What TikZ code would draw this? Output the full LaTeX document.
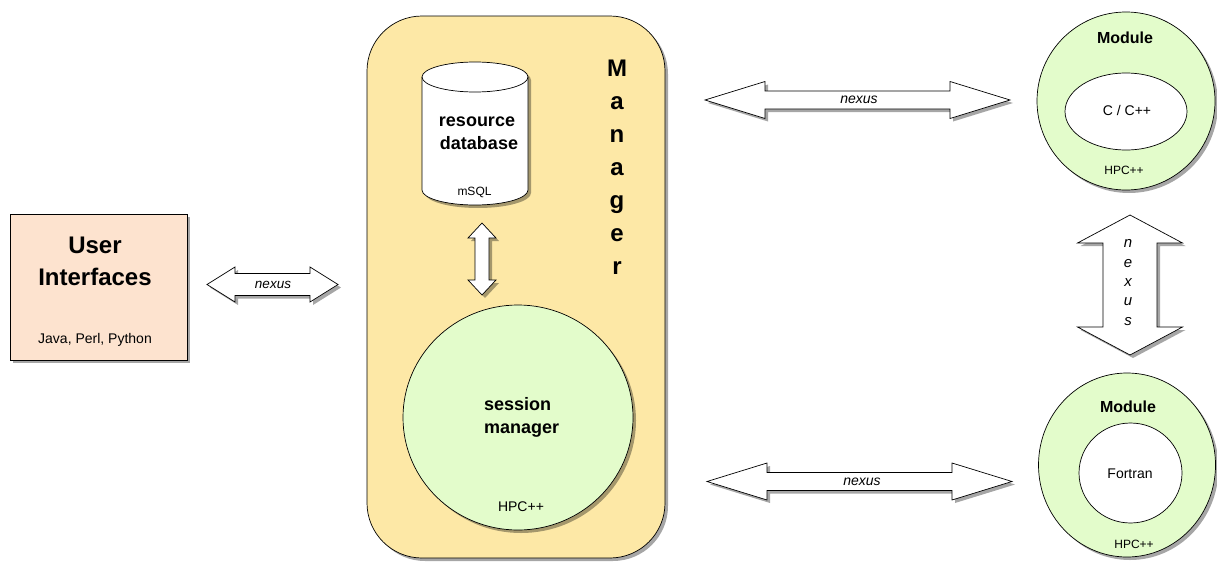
\documentclass[tikz,border=0pt]{standalone}
\usepackage{fontspec}
\setmainfont{Liberation Sans}
\usetikzlibrary{shapes.geometric,shadows}
\definecolor{uifill}{HTML}{FDE3CF}
\definecolor{mgrfill}{HTML}{FDE8A6}
\definecolor{grnfill}{HTML}{E3FCCB}
\tikzset{
  shd/.style={drop shadow={shadow xshift=3pt,shadow yshift=-3pt,fill=black,opacity=0.35}},
  outl/.style={draw=black,line width=0.7pt},
  blockarrow/.style={outl,fill=white,shd,line join=miter},
  fs/.style={font=\fontsize{#1}{#1}\selectfont},
  bfs/.style={font=\fontsize{#1}{#1}\selectfont\bfseries},
  ifs/.style={font=\fontsize{#1}{#1}\selectfont\itshape},
  txt/.style={inner sep=0pt,anchor=base},
}
\newcommand\hblockarrow[6]{%
  \draw[blockarrow] (#1,#3) -- ({#1+#4},{#3-#6}) -- ({#1+#4},{#3-#5}) -- ({#2-#4},{#3-#5}) -- ({#2-#4},{#3-#6}) -- (#2,#3) -- ({#2-#4},{#3+#6}) -- ({#2-#4},{#3+#5}) -- ({#1+#4},{#3+#5}) -- ({#1+#4},{#3+#6}) -- cycle;}
\newcommand\vblockarrow[6]{%
  \draw[blockarrow] (#1,#2) -- ({#1+#6},{#2+#4}) -- ({#1+#5},{#2+#4}) -- ({#1+#5},{#3-#4}) -- ({#1+#6},{#3-#4}) -- (#1,#3) -- ({#1-#6},{#3-#4}) -- ({#1-#5},{#3-#4}) -- ({#1-#5},{#2+#4}) -- ({#1-#6},{#2+#4}) -- cycle;}
\begin{document}
\begin{tikzpicture}[x=1pt,y=-1pt]
\useasboundingbox (0,0) rectangle (1217,562);
% User interfaces
\node[outl,fill=uifill,shd,rectangle,minimum width=177pt,minimum height=146pt,inner sep=0pt] (ui) at (98.5,287) {};
\node[txt,bfs=24] (uit1) at (95,253) {User};
\node[txt,bfs=24] (uit2) at (95,285) {Interfaces};
\node[txt,fs=14] (uit3) at (95,343) {Java, Perl, Python};
% left nexus arrow
\hblockarrow{207}{338}{284.5}{28}{11}{17.5}
\node[txt,ifs=13.5] (nx1) at (273,288.5) {nexus};
% Manager
\draw[outl,fill=mgrfill,shd,rounded corners=55pt] (367,16) rectangle (665,558);
\foreach \l [count=\i from 0] in {M,a,n,a,g,e,r}
  \node[txt,bfs=24] (mg\i) at (617,76.5+33*\i) {\l};
% database cylinder
\draw[outl,fill=white,shd] (422,77) -- (422,190) arc[start angle=180,end angle=360,x radius=53pt,y radius=15pt] -- (528,77) arc[start angle=0,end angle=180,x radius=53pt,y radius=15pt] -- cycle;
\draw[outl] (422,77) arc[start angle=180,end angle=360,x radius=53pt,y radius=15pt];
\node[txt,bfs=18] (db1) at (477,126) {resource};
\node[txt,bfs=18] (db2) at (479,149) {database};
\node[txt,fs=12] (db3) at (474.5,195) {mSQL};
% small vertical arrow
\vblockarrow{482}{223}{295}{15}{7}{14}
% session manager
\node[outl,fill=grnfill,shd,ellipse,minimum width=230pt,minimum height=225pt,inner sep=0pt] (sm) at (518,417.5) {};
\node[txt,bfs=18,anchor=base west] (sm1) at (484,410) {session};
\node[txt,bfs=18,anchor=base west] (sm2) at (484,433) {manager};
\node[txt,fs=14] (sm3) at (521,511) {HPC++};
% top module
\node[outl,fill=grnfill,shd,ellipse,minimum width=178pt,minimum height=178pt,inner sep=0pt] (m1) at (1126,101) {};
\node[outl,fill=white,ellipse,minimum width=122pt,minimum height=77pt,inner sep=0pt] (m1in) at (1126,111.5) {};
\node[txt,bfs=16] (m1t) at (1125,43) {Module};
\node[txt,fs=14] (m1l) at (1127,115) {C / C++};
\node[txt,fs=12] (m1h) at (1124,174) {HPC++};
% bottom module
\node[outl,fill=grnfill,shd,ellipse,minimum width=177pt,minimum height=184pt,inner sep=0pt] (m2) at (1127,465) {};
\node[outl,fill=white,ellipse,minimum width=103pt,minimum height=100pt,inner sep=0pt] (m2in) at (1130.5,473) {};
\node[txt,bfs=16] (m2t) at (1128,412) {Module};
\node[txt,fs=14] (m2l) at (1130,478) {Fortran};
\node[txt,fs=12] (m2h) at (1134,548) {HPC++};
% top nexus arrow
\hblockarrow{705}{1010}{100}{60}{9}{18.5}
\node[txt,ifs=14] (nx2) at (859,103.5) {nexus};
% bottom nexus arrow
\hblockarrow{707}{1012}{481.5}{60}{9}{18.5}
\node[txt,ifs=14] (nx3) at (862,485.5) {nexus};
% vertical nexus arrow
\vblockarrow{1130}{215}{355}{28}{27}{52.5}
\foreach \l/\yy [count=\i] in {n/247,e/267,x/286,u/305,s/325}
  \node[txt,ifs=15] (vn\i) at (1128,\yy) {\l};
\end{tikzpicture}
\end{document}
